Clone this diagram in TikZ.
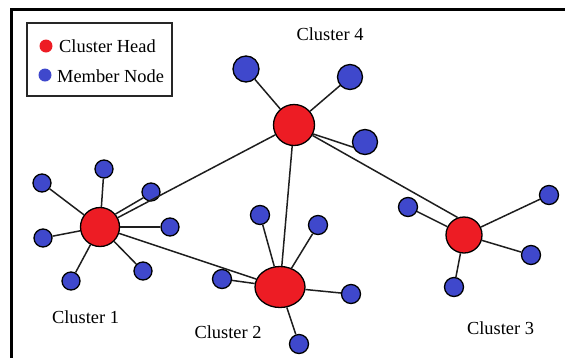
\documentclass[tikz,border=0pt]{standalone}
\usepackage{fontspec}
\setmainfont{Liberation Serif}
\usetikzlibrary{shapes.geometric}
\definecolor{headred}{RGB}{237,28,36}
\definecolor{memberblue}{RGB}{63,72,204}
\definecolor{wire}{RGB}{30,30,30}
\tikzset{
  head/.style={circle, draw=black, line width=1.3pt, fill=headred, inner sep=0pt},
  member/.style={circle, draw=black, line width=1.3pt, fill=memberblue, inner sep=0pt, minimum size=18pt},
  link/.style={draw=wire, line width=1.5pt},
  lbl/.style={font=\fontsize{18.4}{22}\selectfont, inner sep=0pt},
  dot/.style={circle, inner sep=0pt, minimum size=13pt},
}
\begin{document}
\begin{tikzpicture}[x=1pt, y=-1pt]
\useasboundingbox (0,0) rectangle (565,357);
\clip (0,0) rectangle (565,357);
% outer frame (top and left edges)
\draw[line width=3pt] (11.5,370) -- (11.5,9.5) -- (580,9.5);

% legend
\draw[line width=2pt, draw=black!85] (27,23) rectangle (172,96);
\node[dot, fill=headred] (lgred) at (46,46) {};
\node[dot, fill=memberblue] (lgblue) at (45,75) {};
\node[lbl, anchor=west] (lgheadtxt) at (59,46) {Cluster Head};
\node[lbl, anchor=west] (lgmembertxt) at (57,76) {Member Node};

% cluster heads
\node[head, minimum size=41pt] (ch4) at (294,125) {};
\node[head, minimum size=39pt] (ch1) at (100,227) {};
\node[head, minimum size=36pt] (ch3) at (464,235) {};
\node[head, ellipse, minimum width=50pt, minimum height=41pt] (ch2) at (280,287) {};

% cluster 4 members
\node[member, minimum size=26pt] (m41) at (246,69) {};
\node[member, minimum size=25pt] (m42) at (350,77) {};
\node[member, minimum size=25pt] (m43) at (365,142) {};

% cluster 1 members
\node[member] (m11) at (104,169) {};
\node[member] (m12) at (42,183) {};
\node[member] (m13) at (151,192) {};
\node[member] (m14) at (170,227) {};
\node[member] (m15) at (43,238) {};
\node[member] (m16) at (143,271) {};
\node[member] (m17) at (71,281) {};

% cluster 2 members
\node[member, minimum size=19pt] (m21) at (260,215) {};
\node[member, minimum size=19pt] (m22) at (318,225) {};
\node[member, minimum size=19pt] (m23) at (222,279) {};
\node[member, minimum size=19pt] (m24) at (351,294) {};
\node[member, minimum size=19pt] (m25) at (299,344) {};

% cluster 3 members
\node[member, minimum size=19pt] (m31) at (408,207) {};
\node[member, minimum size=19pt] (m32) at (549,195) {};
\node[member, minimum size=19pt] (m33) at (531,255) {};
\node[member, minimum size=19pt] (m34) at (454,287) {};

% links between cluster heads
\draw[link] (ch4) -- (ch1);
\draw[link] (ch4) -- (ch2);
\draw[link] (ch4) -- (ch3.110);
\draw[link] (ch1) -- (ch2);

% links from heads to their members
\foreach \m in {m41,m42} \draw[link] (ch4) -- (\m);
\draw[link] (ch4.335) -- (m43.203);
\foreach \m in {m11,m12,m14,m15,m16,m17} \draw[link] (ch1) -- (\m);
\draw[link] (ch1.40) -- (m13.217);
\foreach \m in {m21,m22,m23,m24,m25} \draw[link] (ch2) -- (\m);
\foreach \m in {m31,m32,m33,m34} \draw[link] (ch3) -- (\m);

% cluster labels
\node[lbl] (c4txt) at (330,34) {Cluster 4};
\node[lbl] (c1txt) at (85.5,317) {Cluster 1};
\node[lbl] (c2txt) at (228,332) {Cluster 2};
\node[lbl] (c3txt) at (500.5,328) {Cluster 3};
\end{tikzpicture}
\end{document}
